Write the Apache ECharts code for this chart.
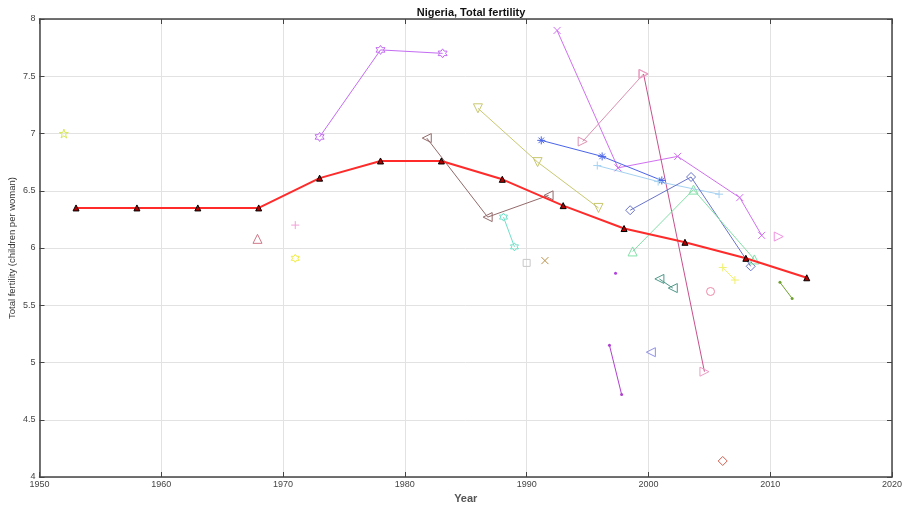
<!DOCTYPE html>
<html>
<head>
<meta charset="utf-8">
<script src="https://cdn.jsdelivr.net/npm/echarts@6/dist/echarts.min.js"></script>
<style>
html,body{margin:0;padding:0;background:#fff;}
#chart{width:908px;height:506px;}
</style>
</head>
<body>
<div id="chart"></div>
<script>
// ---- Data ----
const xTicks = [1950, 1960, 1970, 1980, 1990, 2000, 2010, 2020];
const yTicks = [4, 4.5, 5, 5.5, 6, 6.5, 7, 7.5, 8];

const wppYears = [1953, 1958, 1963, 1968, 1973, 1978, 1983, 1988, 1993, 1998, 2003, 2008, 2013];
const wppTfr   = [6.35, 6.35, 6.35, 6.35, 6.61, 6.76, 6.76, 6.60, 6.37, 6.17, 6.05, 5.91, 5.74];

const s1Years = [1952.0];                          const s1Tfr = [7.00];
const s2Years = [1973.0, 1978.0, 1983.1];          const s2Tfr = [6.97, 7.73, 7.70];
const s3Years = [1967.9];                          const s3Tfr = [6.08];
const s4Years = [1971.0];                          const s4Tfr = [6.20];
const s5Years = [1971.0];                          const s5Tfr = [5.91];
const s6Years = [1981.8, 1986.8, 1991.8];          const s6Tfr = [6.96, 6.27, 6.46];
const s7Years = [1986.0, 1990.9, 1995.9];          const s7Tfr = [7.22, 6.75, 6.35];
const s8Years = [1988.1, 1989.0];                  const s8Tfr = [6.27, 6.01];
const s9Years = [1990.0];                          const s9Tfr = [5.87];
const s10Years = [1991.5];                         const s10Tfr = [5.89];
const s11Years = [1992.5, 1997.5, 2002.4, 2007.5, 2009.3]; const s11Tfr = [7.90, 6.70, 6.80, 6.44, 6.11];
const s12Years = [1994.6, 1999.6];                 const s12Tfr = [6.93, 7.52];
const s13Years = [1999.6, 2004.6];                 const s13Tfr = [7.52, 4.92];
const s14Years = [1991.2, 1996.2, 2001.1];         const s14Tfr = [6.94, 6.80, 6.59];
const s15Years = [1995.8, 2000.8, 2005.8];         const s15Tfr = [6.72, 6.58, 6.47];
const s16Years = [1998.5, 2003.5, 2008.4];         const s16Tfr = [6.33, 6.62, 5.84];
const s17Years = [1998.7, 2003.7, 2008.7];         const s17Tfr = [5.97, 6.51, 5.90];
const s18Years = [2000.9, 2002.0];                 const s18Tfr = [5.73, 5.65];
const s19Years = [1997.3];                         const s19Tfr = [5.78];
const s20Years = [1996.8, 1997.8];                 const s20Tfr = [5.15, 4.72];
const s21Years = [2000.2];                         const s21Tfr = [5.09];
const s22Years = [2005.1];                         const s22Tfr = [5.62];
const s23Years = [2006.1, 2007.1];                 const s23Tfr = [5.83, 5.72];
const s24Years = [2006.1];                         const s24Tfr = [4.14];
const s25Years = [2010.8, 2011.8];                 const s25Tfr = [5.70, 5.56];
const s26Years = [2010.7];                         const s26Tfr = [6.10];

// ---- Symbols ----
function starPath(n, r1, r2) {
  let d = '';
  for (let i = 0; i < 2 * n; i++) {
    const r = i % 2 === 0 ? r1 : r2;
    const a = -Math.PI / 2 + i * Math.PI / n;
    const x = (10 + r * Math.cos(a)).toFixed(2), y = (10 + r * Math.sin(a)).toFixed(2);
    d += (i === 0 ? 'M' : 'L') + x + ',' + y;
  }
  return 'path://' + d + 'Z';
}
const SYM = {
  pentagram: starPath(5, 10, 3.8),
  hexagram: starPath(6, 10, 5.77),
  x: 'path://M0,0L10,10M10,0L0,10',
  plus: 'path://M5,0L5,10M0,5L10,5',
  asterisk: 'path://M5,0L5,10M0,5L10,5M1.5,1.5L8.5,8.5M8.5,1.5L1.5,8.5',
  right: 'path://M0,0L10,5L0,10Z',
  left: 'path://M10,0L0,5L10,10Z',
  down: 'path://M0,0L10,0L5,10Z',
  up: 'path://M5,0L10,10L0,10Z',
  diamond: 'path://M5,0L10,5L5,10L0,5Z',
  square: 'path://M0,0L10,0L10,10L0,10Z',
  circle: 'circle'
};

function zip(xs, ys) { return xs.map((x, i) => [x, ys[i]]); }

function mkSeries(xs, ys, color, sym, size, opts) {
  opts = opts || {};
  const isPoint = sym === 'point';
  return {
    type: 'line',
    data: zip(xs, ys),
    symbol: isPoint ? 'circle' : SYM[sym],
    symbolSize: isPoint ? 3 : size,
    showSymbol: true,
    lineStyle: { color: opts.lineColor || color, width: 1 },
    itemStyle: isPoint ? { color: color, borderWidth: 0 }
                       : { color: 'rgba(255,255,255,0)', borderColor: opts.markColor || color, borderWidth: 1 },
    emphasis: { disabled: true },
    z: 2
  };
}

const series = [
  mkSeries(s1Years, s1Tfr, '#d8e85a', 'pentagram', 9),
  mkSeries(s2Years, s2Tfr, '#c46cf2', 'hexagram', 9),
  mkSeries(s3Years, s3Tfr, '#d07888', 'up', 9),
  mkSeries(s4Years, s4Tfr, '#f2a0d8', 'plus', 8),
  mkSeries(s5Years, s5Tfr, '#f0ec40', 'hexagram', 8),
  mkSeries(s6Years, s6Tfr, '#946a6a', 'left', 9),
  mkSeries(s7Years, s7Tfr, '#c8c870', 'down', 9),
  mkSeries(s8Years, s8Tfr, '#70e0c8', 'hexagram', 8),
  mkSeries(s9Years, s9Tfr, '#c8c8c8', 'square', 7),
  mkSeries(s10Years, s10Tfr, '#b89048', 'x', 7),
  mkSeries(s11Years, s11Tfr, '#d070f0', 'x', 7),
  mkSeries(s12Years, s12Tfr, '#dc90b0', 'right', 9),
  mkSeries(s13Years, s13Tfr, '#c8508c', 'right', 9, { markColor: '#ee9cc6' }),
  mkSeries(s14Years, s14Tfr, '#4a64e8', 'asterisk', 8),
  mkSeries(s15Years, s15Tfr, '#a4d2f2', 'plus', 8),
  mkSeries(s16Years, s16Tfr, '#6a74c8', 'diamond', 9),
  mkSeries(s17Years, s17Tfr, '#84e0a8', 'up', 9),
  mkSeries(s18Years, s18Tfr, '#4e9888', 'left', 9),
  mkSeries(s19Years, s19Tfr, '#b040e0', 'point', 3),
  mkSeries(s20Years, s20Tfr, '#b040d0', 'point', 3),
  mkSeries(s21Years, s21Tfr, '#9090e8', 'left', 9),
  mkSeries(s22Years, s22Tfr, '#f088a8', 'circle', 8),
  mkSeries(s23Years, s23Tfr, '#f0f070', 'plus', 8),
  mkSeries(s24Years, s24Tfr, '#d06050', 'diamond', 9),
  mkSeries(s25Years, s25Tfr, '#70a030', 'point', 3),
  mkSeries(s26Years, s26Tfr, '#f090e0', 'right', 9),
  {
    type: 'line',
    data: zip(wppYears, wppTfr),
    symbol: 'triangle',
    symbolSize: 6,
    lineStyle: { color: '#ff2a2a', width: 2 },
    itemStyle: { color: '#b00000', borderColor: '#000', borderWidth: 1 },
    emphasis: { disabled: true },
    z: 5
  }
];

const axisColor = '#444';
const FONT = 'Liberation Sans, Arial, sans-serif';
const labelFont = { color: '#444', fontSize: 9, fontFamily: FONT, formatter: v => String(v) };

const chart = echarts.init(document.getElementById('chart'), null, { renderer: 'canvas' });
chart.setOption({
  animation: false,
  backgroundColor: '#fff',
  title: {
    text: 'Nigeria, Total fertility',
    left: 466, top: 2, textAlign: 'center',
    textStyle: { fontSize: 11, fontWeight: 'bold', color: '#111', fontFamily: FONT }
  },
  grid: { left: 39.5, right: 16, top: 19, bottom: 29, containLabel: false, outerBoundsMode: 'none' },
  xAxis: [{
    type: 'value', min: xTicks[0], max: xTicks[xTicks.length - 1], interval: 10, position: 'bottom',
    name: 'Year', nameLocation: 'middle', nameGap: 16, nameMoveOverlap: false,
    nameTextStyle: { color: '#555', fontSize: 11, fontWeight: 'bold', fontFamily: FONT },
    axisLine: { show: true, onZero: false, lineStyle: { color: axisColor, width: 1.5 } },
    axisTick: { show: true, inside: true, length: 5, lineStyle: { color: axisColor } },
    axisLabel: Object.assign({ margin: 3 }, labelFont),
    splitLine: { show: true, lineStyle: { color: '#e2e2e2', width: 1 } }
  }, {
    type: 'value', min: xTicks[0], max: xTicks[xTicks.length - 1], interval: 10, position: 'top',
    axisLine: { show: true, onZero: false, lineStyle: { color: axisColor, width: 1.5 } },
    axisTick: { show: true, inside: true, length: 5, lineStyle: { color: axisColor } },
    axisLabel: { show: false }, splitLine: { show: false }
  }],
  yAxis: [{
    type: 'value', min: yTicks[0], max: yTicks[yTicks.length - 1], interval: 0.5, position: 'left',
    name: 'Total fertility (children per woman)', nameLocation: 'middle', nameGap: 22, nameMoveOverlap: false,
    nameTextStyle: { color: '#333', fontSize: 9.5, fontFamily: FONT },
    axisLine: { show: true, onZero: false, lineStyle: { color: axisColor, width: 1.5 } },
    axisTick: { show: true, inside: true, length: 5, lineStyle: { color: axisColor } },
    axisLabel: Object.assign({ margin: 4 }, labelFont),
    splitLine: { show: true, lineStyle: { color: '#e2e2e2', width: 1 } }
  }, {
    type: 'value', min: yTicks[0], max: yTicks[yTicks.length - 1], interval: 0.5, position: 'right',
    axisLine: { show: true, onZero: false, lineStyle: { color: axisColor, width: 1.5 } },
    axisTick: { show: true, inside: true, length: 5, lineStyle: { color: axisColor } },
    axisLabel: { show: false }, splitLine: { show: false }
  }],
  series: series
});
</script>
</body>
</html>
